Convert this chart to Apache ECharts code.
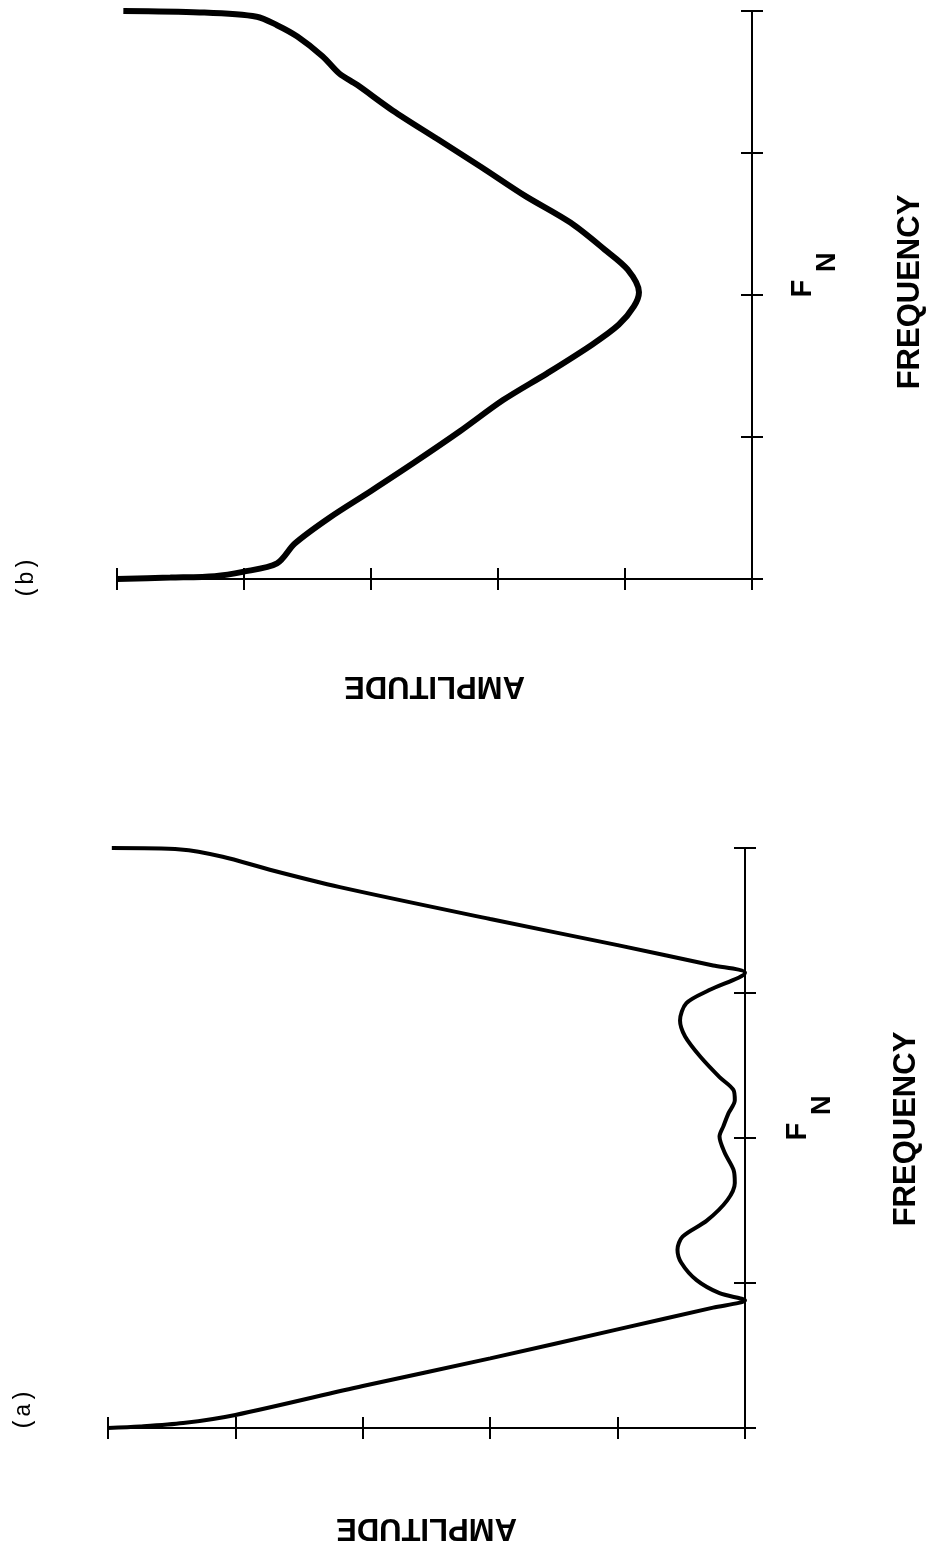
<!DOCTYPE html>
<html>
<head>
<meta charset="utf-8">
<script src="https://cdn.jsdelivr.net/npm/echarts@6/dist/echarts.min.js"></script>
<style>
  html, body { margin: 0; padding: 0; background: #ffffff; }
  #chart { width: 934px; height: 1558px; }
</style>
</head>
<body>
<div id="chart"></div>
<script>
// Panel (a): amplitude response with two side lobes around F_N (amplitude, frequency pairs)
const ampA = [5.00, 4.75, 4.41, 4.00, 3.00, 2.00, 1.00, 0.25, 0.00,
  0.20, 0.38, 0.50, 0.53, 0.49, 0.30, 0.14, 0.08, 0.09, 0.16, 0.20,
  0.17, 0.13, 0.08, 0.09, 0.20, 0.35, 0.47, 0.51, 0.46, 0.28, 0.00,
  0.25, 1.00, 2.00, 3.18, 3.73, 4.10, 4.43, 4.97];
const freqA = [0.00, 0.01, 0.034, 0.09, 0.29, 0.48, 0.68, 0.83, 0.88,
  0.93, 1.02, 1.14, 1.23, 1.32, 1.43, 1.57, 1.69, 1.78, 1.90, 2.01,
  2.08, 2.17, 2.26, 2.33, 2.42, 2.56, 2.70, 2.81, 2.93, 3.02, 3.14,
  3.19, 3.33, 3.51, 3.73, 3.85, 3.94, 3.99, 4.00];

// Panel (b): V-shaped amplitude response with its minimum at F_N
const ampB = [5.00, 4.58, 4.23, 4.01, 3.74, 3.60, 3.33, 3.00, 2.66,
  2.30, 1.96, 1.61, 1.26, 1.05, 0.93, 0.89, 0.98, 1.16, 1.43, 1.79,
  2.13, 2.48, 2.83, 3.11, 3.25, 3.38, 3.58, 3.74, 3.90, 4.35, 4.95];
const freqB = [0.00, 0.01, 0.02, 0.05, 0.11, 0.25, 0.43, 0.62, 0.82,
  1.04, 1.26, 1.45, 1.65, 1.79, 1.92, 2.02, 2.18, 2.32, 2.51, 2.70,
  2.90, 3.10, 3.30, 3.48, 3.56, 3.68, 3.82, 3.90, 3.96, 3.99, 4.00];

// Axis ranges (tick every unit) and the single frequency tick label
const ampRange = [0, 5];
const freqRange = [0, 4];
const freqLabelValue = 2;
const freqLabelMain = 'F';
const freqLabelSub = 'N';
const ampName = 'AMPLITUDE';
const freqName = 'FREQUENCY';
const panelTags = ['(a)', '(b)'];

const zip = (xs, ys) => xs.map((x, i) => [x, ys[i]]);

const INK = '#000000';
const SANS = '"Liberation Sans", Arial, sans-serif';
const MONO = '"Liberation Mono", "DejaVu Sans Mono", monospace';

function ampAxes(gridIndex, nameGap) {
  const base = {
    gridIndex, type: 'value', min: ampRange[0], max: ampRange[1], interval: 1,
    inverse: true, position: 'bottom',
    splitLine: { show: false }, axisLabel: { show: false }
  };
  return [
    Object.assign({}, base, {
      axisLine: { show: true, lineStyle: { color: INK, width: 2 } },
      axisTick: { show: true, inside: false, length: 11, lineStyle: { color: INK, width: 2 } },
      name: ampName, nameLocation: 'middle', nameRotate: 180, nameGap,
      nameTextStyle: { color: INK, fontSize: 31, fontWeight: 'bold', fontFamily: SANS }
    }),
    Object.assign({}, base, {
      axisLine: { show: false },
      axisTick: { show: true, inside: true, length: 11, lineStyle: { color: INK, width: 2 } }
    })
  ];
}

function freqAxes(gridIndex, nameGap, labelMargin, nameShift) {
  const base = {
    gridIndex, type: 'value', min: freqRange[0], max: freqRange[1], interval: 1,
    position: 'right', splitLine: { show: false }
  };
  return [
    Object.assign({}, base, {
      axisLine: { show: true, lineStyle: { color: INK, width: 2 } },
      axisTick: { show: true, inside: false, length: 11, lineStyle: { color: INK, width: 2 } },
      axisLabel: {
        show: true, rotate: 90, margin: labelMargin,
        padding: [0, 0, 0, 40],
        formatter: v => (v === freqLabelValue ? '{f|' + freqLabelMain + '}{n|' + freqLabelSub + '}' : ''),
        rich: {
          f: { color: INK, fontSize: 29, fontWeight: 'bold', fontFamily: SANS, lineHeight: 28, verticalAlign: 'top' },
          n: { color: INK, fontSize: 27, fontWeight: 'bold', fontFamily: SANS, lineHeight: 80, padding: [0, 0, 0, 8] }
        }
      },
      name: freqName, nameLocation: 'middle', nameRotate: 90, nameGap,
      nameTextStyle: { color: INK, fontSize: 31, fontWeight: 'bold', fontFamily: SANS, padding: [0, 0, 0, nameShift] }
    }),
    Object.assign({}, base, {
      axisLine: { show: false }, axisLabel: { show: false },
      axisTick: { show: true, inside: true, length: 11, lineStyle: { color: INK, width: 2 } }
    })
  ];
}

const chart = echarts.init(document.getElementById('chart'), null, { renderer: 'canvas' });

chart.setOption({
  animation: false,
  backgroundColor: '#ffffff',
  grid: [
    { left: 108, top: 848, width: 637, height: 580 },   // panel (a)
    { left: 117, top: 11, width: 636, height: 568 }     // panel (b)
  ],
  xAxis: [].concat(ampAxes(0, 84), ampAxes(1, 91)),
  yAxis: [].concat(freqAxes(0, 146, 38, 18), freqAxes(1, 143, 36, 6)),
  series: [
    {
      name: 'a', type: 'line', xAxisIndex: 0, yAxisIndex: 0,
      data: zip(ampA, freqA), symbol: 'none', smooth: 0.3,
      lineStyle: { color: INK, width: 4 }
    },
    {
      name: 'b', type: 'line', xAxisIndex: 2, yAxisIndex: 2,
      data: zip(ampB, freqB), symbol: 'none', smooth: 0.3,
      lineStyle: { color: INK, width: 6 }
    }
  ],
  graphic: [
    { type: 'text', x: 24, y: 1410, rotation: Math.PI / 2,
      style: { text: panelTags[0], fill: INK, fontSize: 23, fontFamily: MONO, align: 'center', verticalAlign: 'middle' } },
    { type: 'text', x: 27, y: 578, rotation: Math.PI / 2,
      style: { text: panelTags[1], fill: INK, fontSize: 23, fontFamily: MONO, align: 'center', verticalAlign: 'middle' } }
  ]
});
</script>
</body>
</html>
